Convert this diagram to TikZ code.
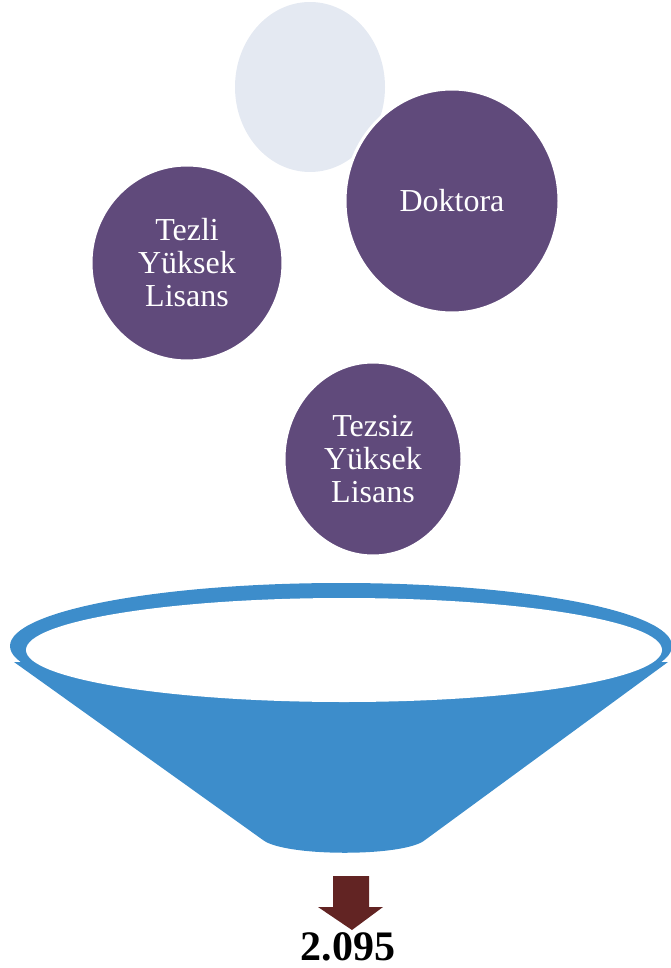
\documentclass[tikz,border=0pt]{standalone}
\usepackage{fontspec}
\setmainfont{Liberation Serif}
\usepackage{xcolor}
\usetikzlibrary{shapes.geometric}

\definecolor{kurs}{HTML}{604A7B}
\definecolor{soluk}{HTML}{E4E9F2}
\definecolor{huni}{HTML}{3D8DCB}
\definecolor{ok}{HTML}{622423}

\begin{document}
\begin{tikzpicture}[
    x=1pt, y=-1pt,
    bubble/.style={ellipse, fill=kurs, draw=white, line width=3pt, inner sep=0pt,
        text=white, align=center, font=\fontsize{32}{33}\selectfont},
    pale/.style={ellipse, fill=soluk, inner sep=0pt}
]
    \useasboundingbox (0,0) rectangle (670,968);

    % circles
    \node[pale, minimum width=150pt, minimum height=170pt] (bos) at (310,87) {};
    \node[bubble, minimum width=214pt, minimum height=224pt] (doktora) at (452,201) {Doktora};
    \node[bubble, minimum width=192pt, minimum height=196pt] (tezli) at (187,263) {Tezli\\Yüksek\\Lisans};
    \node[bubble, minimum width=178pt, minimum height=194pt] (tezsiz) at (373,459) {Tezsiz\\Yüksek\\Lisans};

    % funnel
    \fill[huni] (14,662) -- (263,840) .. controls (285,857) and (405,857) .. (425,840)
        -- (668,662) -- cycle;
    \fill[huni] (341,646) ellipse[x radius=331, y radius=63];
    \fill[white] (344,650) ellipse[x radius=318, y radius=52];

    % arrow and total
    \fill[ok] (333,876) -- (369,876) -- (369,907) -- (383,907) -- (352,930)
        -- (318,907) -- (333,907) -- cycle;
    \node[font=\fontsize{42}{42}\selectfont\bfseries, anchor=base] (toplam) at (348,960) {2.095};
\end{tikzpicture}
\end{document}
